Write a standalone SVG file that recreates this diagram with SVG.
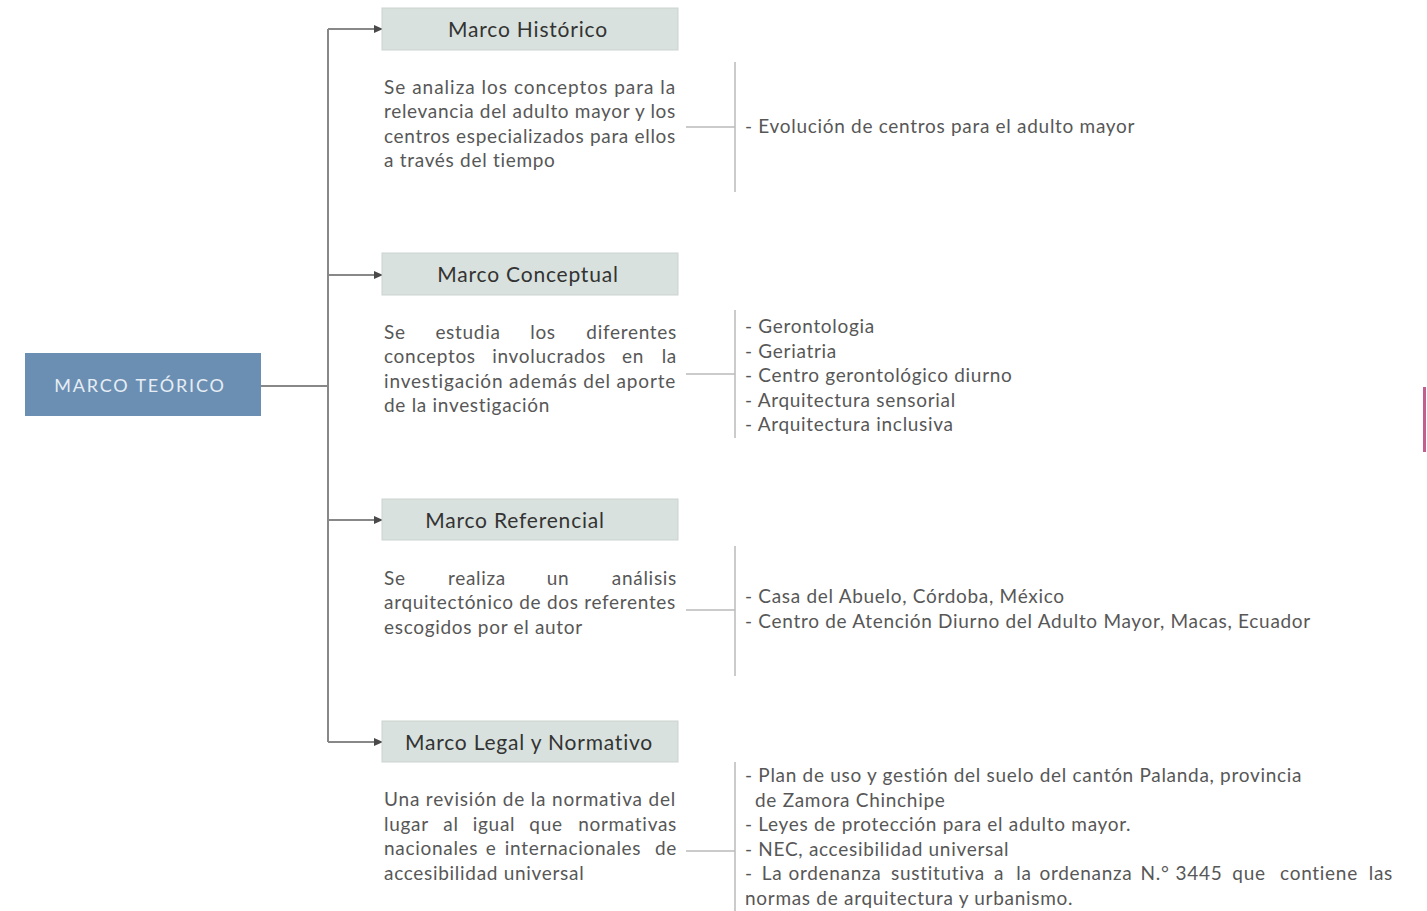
<svg xmlns="http://www.w3.org/2000/svg" width="1427" height="911" viewBox="0 0 1427 911">
<defs>
<marker id="ah" markerWidth="9" markerHeight="9" refX="8" refY="4.5" orient="auto" markerUnits="userSpaceOnUse">
<path d="M0,0.5 L9,4.5 L0,8.5 Z" fill="#4a4a4a"/>
</marker>
<style>
.hdr{fill:#d8e1dd;stroke:#cbd3cf;stroke-width:1}
.ht{font-family:Lato,"Liberation Sans",sans-serif;font-size:21px;letter-spacing:0.8px;fill:#333;text-anchor:middle}
.d{font-family:Lato,"Liberation Sans",sans-serif;font-size:19px;letter-spacing:0.7px;fill:#575757}
.it{font-family:Lato,"Liberation Sans",sans-serif;font-size:19px;letter-spacing:0.7px;fill:#575757}
.m{text-anchor:middle}
.e{text-anchor:end}
.tr{stroke:#888;stroke-width:2;fill:none}
.br{stroke:#bbb;stroke-width:1.5;fill:none}
</style>
</defs>
<rect width="1427" height="911" fill="#fff"/>

<g id="connectors">
<path class="tr" d="M261,386 H328 M328,29 V742"/>
<path class="tr" d="M328,29 H382" marker-end="url(#ah)"/>
<path class="tr" d="M328,275 H382" marker-end="url(#ah)"/>
<path class="tr" d="M328,520 H382" marker-end="url(#ah)"/>
<path class="tr" d="M328,742 H382" marker-end="url(#ah)"/>
<path class="br" d="M686,127 H735 M735,62 V192"/>
<path class="br" d="M686,374 H735 M735,310 V438"/>
<path class="br" d="M686,610 H735 M735,546 V676"/>
<path class="br" d="M686,851 H735 M735,762 V911"/>
</g>

<g id="marco-teorico">
<rect x="25" y="353" width="236" height="63" fill="#6b8fb3"/>
<text x="140" y="392" font-family="Lato,'Liberation Sans',sans-serif" font-size="18" letter-spacing="1.8" fill="#e6edf4" text-anchor="middle">MARCO TEÓRICO</text>
</g>

<g id="marco-historico">
<rect class="hdr" x="382" y="8" width="296" height="42"/>
<text class="ht" x="528" y="37">Marco Histórico</text>
<text class="d" x="384" y="94" textLength="292" lengthAdjust="spacing">Se analiza los conceptos para la</text>
<text class="d" x="384" y="118" textLength="292" lengthAdjust="spacing">relevancia del adulto mayor y los</text>
<text class="d" x="384" y="143" textLength="292" lengthAdjust="spacing">centros especializados para ellos</text>
<text class="d" x="384" y="167">a través del tiempo</text>
<text class="it" x="745" y="133">- Evolución de centros para el adulto mayor</text>
</g>

<g id="marco-conceptual">
<rect class="hdr" x="382" y="253" width="296" height="42"/>
<text class="ht" x="528" y="282">Marco Conceptual</text>
<text class="d" x="384" y="339">Se</text><text class="d m" x="468" y="339">estudia</text><text class="d m" x="543" y="339">los</text><text class="d e" x="677" y="339">diferentes</text>
<text class="d" x="384" y="363">conceptos</text><text class="d m" x="549" y="363">involucrados</text><text class="d m" x="633" y="363">en</text><text class="d e" x="677" y="363">la</text>
<text class="d" x="384" y="388" textLength="292" lengthAdjust="spacing">investigación además del aporte</text>
<text class="d" x="384" y="412">de la investigación</text>
<text class="it" x="745" y="333">- Gerontologia</text>
<text class="it" x="745" y="358">- Geriatria</text>
<text class="it" x="745" y="382">- Centro gerontológico diurno</text>
<text class="it" x="745" y="407">- Arquitectura sensorial</text>
<text class="it" x="745" y="431">- Arquitectura inclusiva</text>
</g>

<g id="marco-referencial">
<rect class="hdr" x="382" y="499" width="296" height="41"/>
<text class="ht" x="515" y="528">Marco Referencial</text>
<text class="d" x="384" y="585">Se</text><text class="d m" x="477" y="585">realiza</text><text class="d m" x="558" y="585">un</text><text class="d e" x="677" y="585">análisis</text>
<text class="d" x="384" y="609" textLength="292" lengthAdjust="spacing">arquitectónico de dos referentes</text>
<text class="d" x="384" y="634">escogidos por el autor</text>
<text class="it" x="745" y="603">- Casa del Abuelo, Córdoba, México</text>
<text class="it" x="745" y="628">- Centro de Atención Diurno del Adulto Mayor, Macas, Ecuador</text>
</g>

<g id="marco-legal">
<rect class="hdr" x="382" y="721" width="296" height="41"/>
<text class="ht" x="529" y="750">Marco Legal y Normativo</text>
<text class="d" x="384" y="806" textLength="292" lengthAdjust="spacing">Una revisión de la normativa del</text>
<text class="d" x="384" y="831">lugar</text><text class="d m" x="451" y="831">al</text><text class="d m" x="494" y="831">igual</text><text class="d m" x="546" y="831">que</text><text class="d e" x="677" y="831">normativas</text>
<text class="d" x="384" y="855">nacionales</text><text class="d m" x="491" y="855">e</text><text class="d m" x="573" y="855">internacionales</text><text class="d e" x="677" y="855">de</text>
<text class="d" x="384" y="880">accesibilidad universal</text>
<text class="it" x="745" y="782">- Plan de uso y gestión del suelo del cantón Palanda, provincia</text>
<text class="it" x="755" y="807">de Zamora Chinchipe</text>
<text class="it" x="745" y="831">- Leyes de protección para el adulto mayor.</text>
<text class="it" x="745" y="856">- NEC, accesibilidad universal</text>
<text class="it" x="745" y="880">-</text><text class="it m" x="772" y="880">La</text><text class="it m" x="835" y="880">ordenanza</text><text class="it m" x="938" y="880">sustitutiva</text><text class="it m" x="999" y="880">a</text><text class="it m" x="1024" y="880">la</text><text class="it m" x="1086" y="880">ordenanza</text><text class="it m" x="1155" y="880">N.°</text><text class="it m" x="1199" y="880">3445</text><text class="it m" x="1249" y="880">que</text><text class="it m" x="1319" y="880">contiene</text><text class="it e" x="1393" y="880">las</text>
<text class="it" x="745" y="905">normas de arquitectura y urbanismo.</text>
</g>

<rect x="1423" y="387" width="3" height="65" fill="#c0608f"/>
</svg>
